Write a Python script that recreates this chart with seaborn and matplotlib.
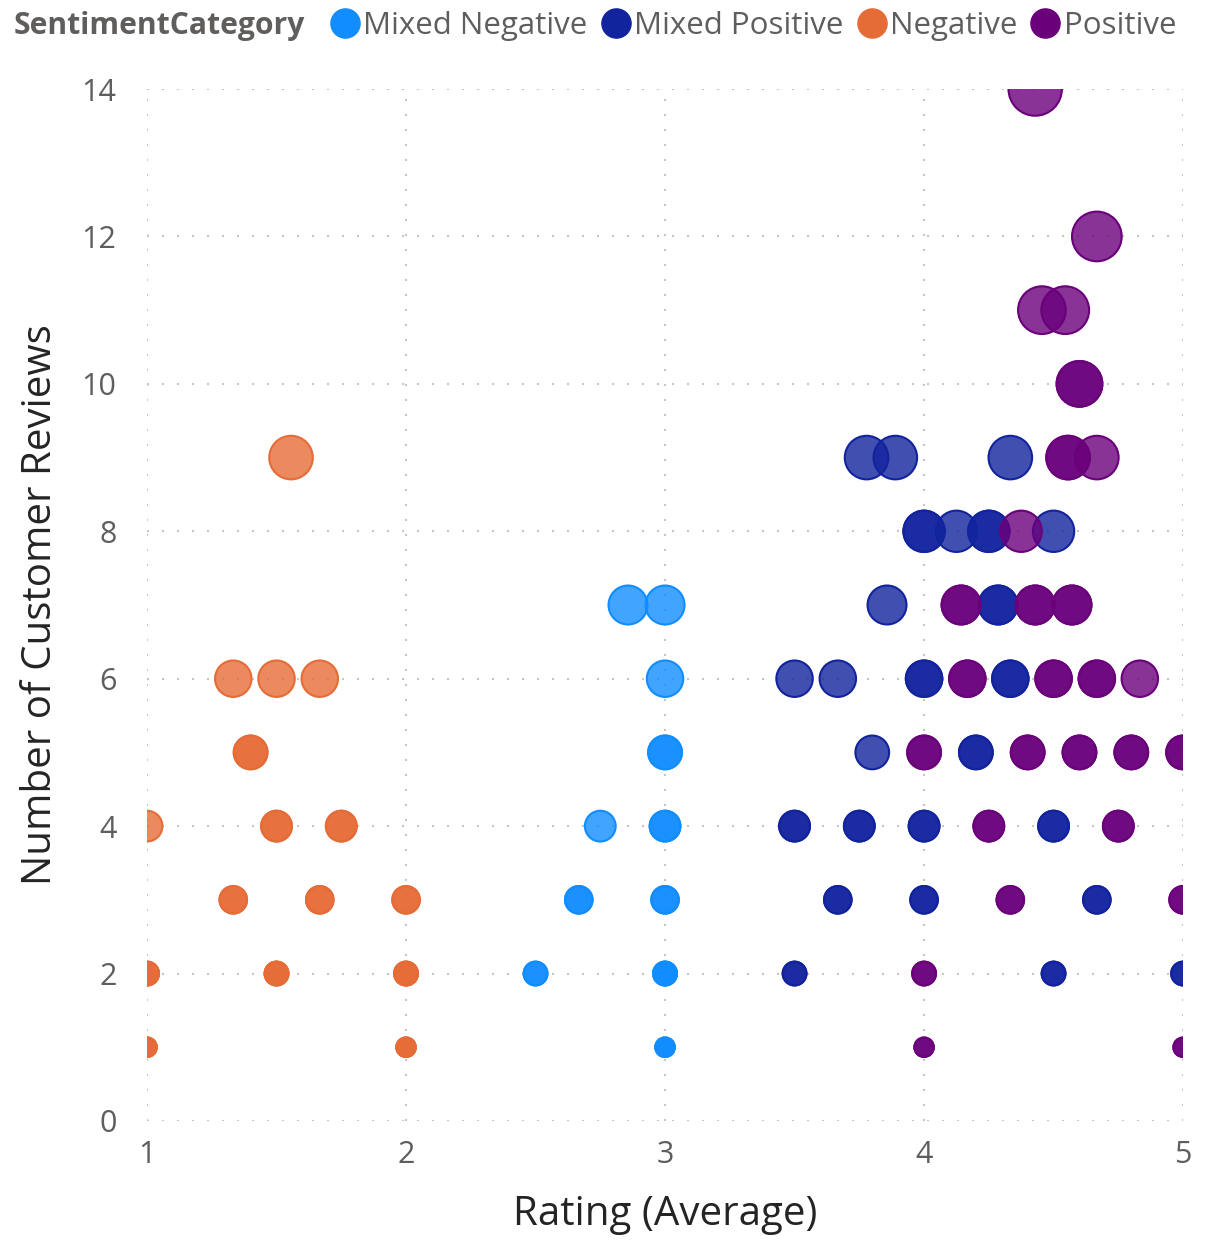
import numpy as np
import pandas as pd
import matplotlib
matplotlib.use("Agg")
import matplotlib.pyplot as plt
from matplotlib.lines import Line2D
import seaborn as sns

# data (rating average, number of reviews, products sharing that point)
neg_rating = [1.556, 1.333, 1.5, 1.667, 1.4, 1.0, 1.5, 1.75, 1.333, 1.667, 2.0, 1.0, 1.5, 2.0, 1.0, 2.0]
neg_reviews = [9, 6, 6, 6, 5, 4, 4, 4, 3, 3, 3, 2, 2, 2, 1, 1]
neg_products = [1, 1, 1, 1, 2, 1, 2, 2, 2, 2, 2, 3, 3, 3, 3, 3]

mneg_rating = [2.857, 3.0, 3.0, 3.0, 2.75, 3.0, 2.667, 3.0, 2.5, 3.0, 3.0]
mneg_reviews = [7, 7, 6, 5, 4, 4, 3, 3, 2, 2, 1]
mneg_products = [1, 1, 1, 2, 1, 2, 2, 2, 2, 3, 3]

mpos_rating = [3.778, 3.889, 4.333, 4.0, 4.125, 4.25, 4.5, 3.857, 4.286, 3.5, 3.667, 4.0, 4.333,
               3.8, 4.2, 3.5, 3.75, 4.0, 4.5, 3.667, 4.0, 4.667, 3.5, 4.5, 5.0]
mpos_reviews = [9, 9, 9, 8, 8, 8, 8, 7, 7, 6, 6, 6, 6, 5, 5, 4, 4, 4, 4, 3, 3, 3, 2, 2, 2]
mpos_products = [1, 1, 1, 2, 1, 2, 1, 1, 2, 1, 1, 2, 2, 1, 2, 2, 2, 2, 2, 2, 2, 2, 2, 2, 2]

pos_rating = [4.429, 4.667, 4.455, 4.545, 4.6, 4.556, 4.667, 4.375, 4.143, 4.429, 4.571, 4.167, 4.5,
              4.667, 4.833, 4.0, 4.4, 4.6, 4.8, 5.0, 4.25, 4.75, 4.333, 5.0, 4.0, 4.0, 5.0]
pos_reviews = [14, 12, 11, 11, 10, 9, 9, 8, 7, 7, 7, 6, 6, 6, 6, 5, 5, 5, 5, 5, 4, 4, 3, 3, 2, 1, 1]
pos_products = [1, 1, 1, 1, 2, 2, 1, 1, 2, 2, 2, 2, 2, 2, 1, 2, 2, 2, 2, 2, 2, 2, 2, 2, 2, 2, 2]

categories = ["Mixed Negative", "Mixed Positive", "Negative", "Positive"]
colors = ["#118DFF", "#12239E", "#E66C37", "#6B007B"]

frames = []
for cat, r, n, p in [("Negative", neg_rating, neg_reviews, neg_products),
                     ("Mixed Negative", mneg_rating, mneg_reviews, mneg_products),
                     ("Mixed Positive", mpos_rating, mpos_reviews, mpos_products),
                     ("Positive", pos_rating, pos_reviews, pos_products)]:
    d = pd.DataFrame({"Rating": r, "Reviews": n, "Products": p})
    d = d.loc[d.index.repeat(d["Products"])]
    d["SentimentCategory"] = cat
    frames.append(d)
df = pd.concat(frames, ignore_index=True)

sns.set_theme(style="white")
plt.rcParams["font.family"] = ["Open Sans", "DejaVu Sans"]

fig = plt.figure(figsize=(12.06, 12.40), dpi=100)
ax = fig.add_axes([0.1219, 0.0960, 0.8591, 0.8322])

sns.scatterplot(data=df, x="Rating", y="Reviews", hue="SentimentCategory",
                hue_order=categories, palette=dict(zip(categories, colors)),
                size="Reviews", sizes=(195, 1477), size_norm=(1, 14),
                linewidth=1.5, legend=False, ax=ax)

# translucent fill, solid outline (overlapping products look solid)
coll = ax.collections[0]
fc = coll.get_facecolors().copy()
ec = fc.copy()
ec[:, 3] = 1.0
fc[:, 3] = 0.8
coll.set_facecolors(fc)
coll.set_edgecolors(ec)

ax.set_xlim(1, 5)
ax.set_ylim(0, 14)
ax.set_xticks([1, 2, 3, 4, 5])
ax.set_yticks([0, 2, 4, 6, 8, 10, 12, 14])
for s in ax.spines.values():
    s.set_visible(False)
ax.grid(True, color="#C8C6C4", linewidth=1.5, linestyle=(0, (1, 6.2)))
ax.set_axisbelow(True)
ax.tick_params(axis="both", length=0, labelsize=22, labelcolor="#605E5C")
ax.tick_params(axis="y", pad=22)
ax.tick_params(axis="x", pad=14)

ax.set_xlabel("Rating (Average)", fontsize=29, color="#252423", labelpad=17)
ax.set_ylabel("Number of Customer Reviews", fontsize=29, color="#252423", labelpad=15)

fig.text(0.011, 0.979, "SentimentCategory", fontsize=21.7, fontweight="bold",
         color="#605E5C", va="center", ha="left")
handles = [Line2D([0], [0], marker="o", linestyle="", markersize=21,
                  markerfacecolor=c, markeredgecolor=c) for c in colors]
fig.legend(handles, categories, loc="center left", bbox_to_anchor=(0.2736, 0.979),
           ncol=4, frameon=False, fontsize=22.5, labelcolor="#605E5C",
           handletextpad=0.12, columnspacing=0.42, handlelength=0.95,
           borderaxespad=0, borderpad=0)

fig.savefig("out.png", dpi=100)
